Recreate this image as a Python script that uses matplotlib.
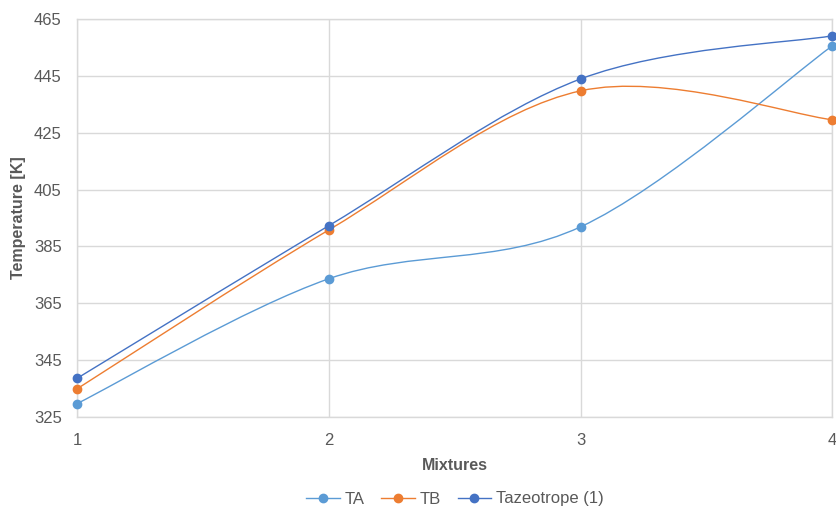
import matplotlib

matplotlib.use("Agg")
import matplotlib.pyplot as plt  # noqa: E402
import numpy as np  # noqa: E402
from matplotlib.lines import Line2D  # noqa: E402
from matplotlib.path import Path  # noqa: E402
from matplotlib.patches import PathPatch  # noqa: E402

plt.rcParams["font.family"] = ["Liberation Sans Narrow", "Liberation Sans", "DejaVu Sans"]

mixtures = [1, 2, 3, 4]
ta = [329.6, 373.6, 391.9, 455.7]
tb = [334.8, 390.8, 439.8, 429.6]
tazeo = [338.5, 392.3, 444.0, 459.2]

series = [
    ("TA", ta, "#5B9BD5"),
    ("TB", tb, "#ED7D31"),
    ("Tazeotrope (1)", tazeo, "#4472C4"),
]

y_ticks = [325, 345, 365, 385, 405, 425, 445, 465]


def smooth_path(xs, ys):
    # Excel-style smoothed line: cubic Bezier through points (Catmull-Rom, 1/6)
    pts = np.column_stack([xs, ys]).astype(float)
    n = len(pts)
    verts = [pts[0]]
    codes = [Path.MOVETO]
    for i in range(n - 1):
        p0 = pts[max(i - 1, 0)]
        p1 = pts[i]
        p2 = pts[i + 1]
        p3 = pts[min(i + 2, n - 1)]
        c1 = p1 + (p2 - p0) / 6.0
        c2 = p2 - (p3 - p1) / 6.0
        verts += [c1, c2, p2]
        codes += [Path.CURVE4] * 3
    return Path(verts, codes)


fig = plt.figure(figsize=(8.37, 5.09), dpi=100)
ax = fig.add_axes([77 / 837, 1 - 416.7 / 509, (832.5 - 77) / 837, (416.7 - 19.3) / 509])

for name, vals, color in series:
    patch = PathPatch(smooth_path(mixtures, vals), facecolor="none", edgecolor=color,
                      lw=1.0, zorder=3, clip_on=False)
    ax.add_patch(patch)
    ax.plot(mixtures, vals, "o", color=color, ms=6, zorder=4, clip_on=False)

ax.set_xlim(1, 4)
ax.set_ylim(325, 465)
ax.set_xticks(mixtures)
ax.set_yticks(y_ticks)
ax.grid(True, color="#d9d9d9", lw=1)
ax.set_axisbelow(True)
for s in ax.spines.values():
    s.set_color("#d9d9d9")
    s.set_linewidth(1)
ax.tick_params(length=0, labelsize=12, labelcolor="#595959")
ax.tick_params(axis="y", pad=11)
ax.tick_params(axis="x", pad=12)

ax.set_xlabel("Mixtures", fontsize=11.5, fontweight="bold", color="#595959", labelpad=7)
ax.set_ylabel("Temperature [K]", fontsize=11.5, fontweight="bold", color="#595959", labelpad=6)

handles = [Line2D([0], [0], color=c, lw=1.0, marker="o", ms=6) for _, _, c in series]
fig.legend(handles, [n for n, _, _ in series], loc="center", bbox_to_anchor=(455 / 837, 1 - 499 / 509),
           ncol=3, frameon=False, fontsize=12, labelcolor="#595959", handlelength=2.0,
           handletextpad=0.3, columnspacing=1.0)

fig.savefig("out.png", dpi=100)
